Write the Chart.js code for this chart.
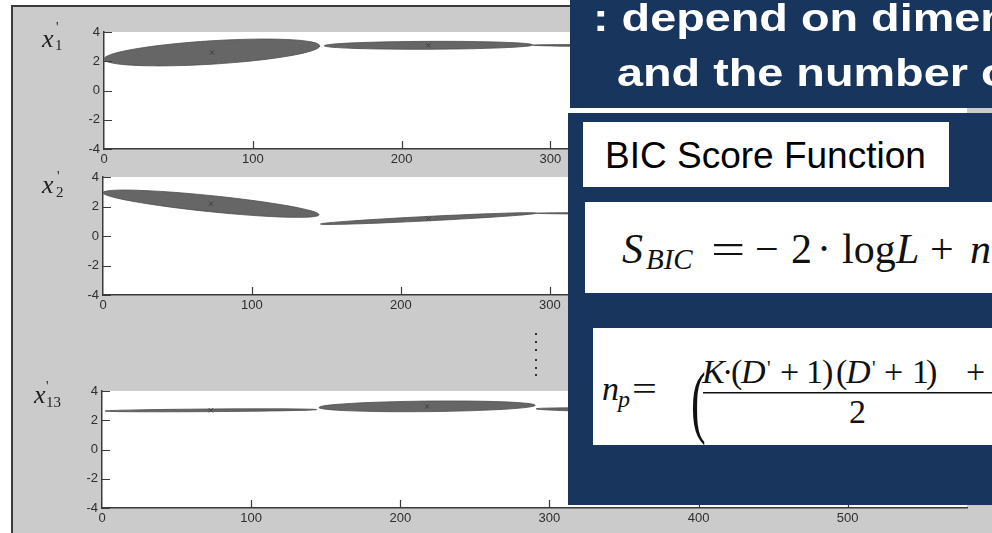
<!DOCTYPE html>
<html>
<head>
<meta charset="utf-8">
<script src="https://cdn.jsdelivr.net/npm/chart.js@4/dist/chart.umd.min.js"></script>
<style>
  html, body { margin: 0; padding: 0; width: 992px; height: 533px; overflow: hidden; background: #ffffff; }
  #figure { position: absolute; left: 11px; top: 5px; width: 1000px; height: 560px;
            background: #cbcbcb; border-left: 2px solid #3a3a3a; border-top: 2px solid #3a3a3a; }
  canvas { position: absolute; }
  #overlay { position: absolute; left: 0; top: 0; }
</style>
</head>
<body>
<div id="figure"></div>
<canvas id="c1"></canvas>
<canvas id="c2"></canvas>
<canvas id="c3"></canvas>

<svg id="overlay" width="992" height="533" xmlns="http://www.w3.org/2000/svg">
  <!-- axis names -->
  <g font-family="Liberation Serif, 'Times New Roman', serif" font-style="italic" fill="#222">
    <text x="42" y="47" font-size="26">x</text>
    <text x="56" y="32" font-size="14" font-style="normal">'</text>
    <text x="55" y="50" font-size="15" font-style="normal">1</text>

    <text x="42" y="193" font-size="26">x</text>
    <text x="57" y="181" font-size="14" font-style="normal">'</text>
    <text x="56" y="197" font-size="15" font-style="normal">2</text>

    <text x="34" y="403" font-size="26">x</text>
    <text x="46" y="391" font-size="14" font-style="normal">'</text>
    <text x="46" y="407" font-size="15" font-style="normal">13</text>
  </g>
  <!-- vertical ellipsis between the panels -->
  <g fill="#333">
    <rect x="535" y="333" width="2" height="2"/>
    <rect x="535" y="341" width="2" height="2"/>
    <rect x="535" y="349" width="2" height="2"/>
    <rect x="535" y="359" width="2" height="2"/>
    <rect x="535" y="367" width="2" height="2"/>
    <rect x="535" y="374" width="2" height="2"/>
  </g>

  <!-- heading box -->
  <rect x="570" y="0" width="430" height="108" fill="#18365d"/>
  <g font-family="Liberation Sans, Arial, sans-serif" font-weight="bold" font-size="39" fill="#ffffff">
    <text transform="translate(593,31) scale(1.2,1)">: depend on dimension</text>
    <text transform="translate(617,86) scale(1.2,1)">and the number of</text>
  </g>

  <!-- score function box -->
  <rect x="568" y="113" width="430" height="392" fill="#18365d"/>
  <rect x="583" y="122" width="366" height="65" fill="#ffffff"/>
  <text x="605" y="168" font-family="Liberation Sans, Arial, sans-serif" font-size="37" fill="#000">BIC Score Function</text>

  <rect x="585" y="202" width="420" height="91" fill="#ffffff"/>
  <g font-family="Liberation Serif, 'Times New Roman', serif" font-size="42" fill="#111">
    <text x="622" y="263" font-style="italic">S</text>
    <text x="646" y="269" font-size="29" font-style="italic">BIC</text>
    <text transform="translate(711,263) scale(1.45,1)">=</text>
    <text x="755" y="263">−</text>
    <text x="791" y="263">2</text>
    <text x="817" y="263">·</text>
    <text x="842" y="263">log</text>
    <text x="896" y="263" font-style="italic">L</text>
    <text x="930" y="263">+</text>
    <text x="970" y="263" font-style="italic">n</text>
  </g>

  <rect x="593" y="328" width="410" height="117" fill="#ffffff"/>
  <g font-family="Liberation Serif, 'Times New Roman', serif" font-size="34" fill="#111">
    <text x="602" y="400" font-style="italic">n</text>
    <text x="618" y="407" font-size="24" font-style="italic">p</text>
    <text transform="translate(632,400) scale(1.3,1)">=</text>
    <text transform="translate(691,428) scale(0.55,1)" font-size="80">(</text>
    <text x="702" y="383" font-style="italic">K</text>
    <text x="722" y="383">·</text>
    <text x="731" y="383">(</text>
    <text x="741" y="383" font-style="italic">D</text>
    <text x="767" y="375" font-size="20">'</text>
    <text x="780" y="383">+</text>
    <text x="806" y="383">1</text>
    <text x="822" y="383">)</text>
    <text x="836" y="383">(</text>
    <text x="846" y="383" font-style="italic">D</text>
    <text x="872" y="375" font-size="20">'</text>
    <text x="884" y="383">+</text>
    <text x="912" y="383">1</text>
    <text x="926" y="383">)</text>
    <text x="966" y="383">+</text>
    <rect x="703" y="392" width="300" height="1.5"/>
    <text x="849" y="423">2</text>
  </g>
</svg>

<script>
// shared axis ticks
const xTicks = [0, 100, 200, 300, 400, 500];
const yTicks = [-4, -2, 0, 2, 4];
const xMax = 580;

// x'_1 : Gaussian components (centre, half length along x, rise tip-to-tip, half thickness)
const centerX1 = [72.5, 218, 362];
const centerY1 = [2.6, 3.09, 3.05];
const halfSpan1 = [72.5, 70, 74];
const rise1 = [0.91, 0.06, -0.1];
const halfThick1 = [0.8, 0.27, 0.08];

// x'_2
const centerX2 = [72.5, 218.5, 362];
const centerY2 = [2.19, 1.18, 1.52];
const halfSpan2 = [72.5, 72.5, 71];
const rise2 = [-1.5, 0.74, -0.05];
const halfThick2 = [0.55, 0.15, 0.06];

// x'_13
const centerX3 = [73, 218, 362];
const centerY3 = [2.68, 2.95, 2.68];
const halfSpan3 = [71, 72.5, 71];
const rise3 = [0.1, 0.15, -0.2];
const halfThick3 = [0.09, 0.36, 0.14];

const axisColor = '#3a3a3a';
const labelFont = { family: 'Liberation Sans, Arial, sans-serif', size: 13 };

const plotBackground = {
  id: 'plotBackground',
  beforeDraw(chart) {
    const { ctx, chartArea: a } = chart;
    ctx.save();
    ctx.fillStyle = '#ffffff';
    ctx.fillRect(a.left, a.top, a.right - a.left, a.bottom - a.top);
    ctx.restore();
  }
};

const inwardTicks = {
  id: 'inwardTicks',
  afterDatasetsDraw(chart) {
    const { ctx, chartArea: a, scales: { x, y } } = chart;
    ctx.save();
    ctx.strokeStyle = axisColor;
    ctx.lineWidth = 1.2;
    ctx.beginPath();
    xTicks.forEach(v => {
      if (v === 0) return;
      const px = Math.round(x.getPixelForValue(v)) + 0.5;
      ctx.moveTo(px, a.bottom);
      ctx.lineTo(px, a.bottom - 8);
    });
    yTicks.forEach(v => {
      const py = Math.round(y.getPixelForValue(v)) + 0.5;
      ctx.moveTo(a.left, py);
      ctx.lineTo(a.left + 8, py);
    });
    ctx.stroke();
    ctx.restore();
  }
};

function ellipsePlugin(cx, cy, span, rise, thick) {
  return {
    id: 'components',
    beforeDatasetsDraw(chart) {
      const { ctx, chartArea: a, scales: { x, y } } = chart;
      ctx.save();
      ctx.beginPath();
      ctx.rect(a.left, a.top, a.right - a.left, a.bottom - a.top);
      ctx.clip();
      cx.forEach((c, i) => {
        const x0 = x.getPixelForValue(c - span[i]);
        const x1 = x.getPixelForValue(c + span[i]);
        const y0 = y.getPixelForValue(cy[i] - rise[i] / 2);
        const y1 = y.getPixelForValue(cy[i] + rise[i] / 2);
        const ang = Math.atan2(y1 - y0, x1 - x0);
        const semiMajor = Math.hypot(x1 - x0, y1 - y0) / 2;
        const semiMinor = Math.max(0.7,
          Math.abs(y.getPixelForValue(0) - y.getPixelForValue(thick[i])) * Math.cos(ang));
        ctx.beginPath();
        ctx.ellipse((x0 + x1) / 2, (y0 + y1) / 2, semiMajor, semiMinor, ang, 0, Math.PI * 2);
        ctx.fillStyle = '#666666';
        ctx.fill();
        ctx.lineWidth = 0.8;
        ctx.strokeStyle = '#4e4e4e';
        ctx.stroke();
      });
      ctx.restore();
    }
  };
}

function makePanel(id, area, cx, cy, span, rise, thick) {
  const canvas = document.getElementById(id);
  const yAxisWidth = 84;
  const left = area.left - yAxisWidth;
  const top = area.top - 20;
  canvas.width = 992 - left;
  canvas.height = (area.bottom - area.top) + 20 + 24;
  canvas.style.left = left + 'px';
  canvas.style.top = top + 'px';

  new Chart(canvas, {
    type: 'scatter',
    data: {
      datasets: [{
        data: cx.map((v, i) => ({ x: v, y: cy[i] })),
        pointStyle: 'crossRot',
        pointRadius: 3,
        borderWidth: 1,
        borderColor: '#3f3f3f',
        backgroundColor: 'transparent'
      }]
    },
    options: {
      responsive: false,
      animation: false,
      devicePixelRatio: 1,
      events: [],
      layout: { padding: { top: 20, right: 992 - area.right, left: 0, bottom: 0 } },
      plugins: { legend: { display: false }, tooltip: { enabled: false } },
      scales: {
        x: {
          type: 'linear', min: 0, max: xMax,
          afterBuildTicks: s => { s.ticks = xTicks.map(v => ({ value: v })); },
          afterFit: s => { s.height = 24; },
          grid: { display: false, drawTicks: false },
          border: { display: true, color: axisColor, width: 1.5 },
          ticks: { padding: 3, color: '#2e2e2e', font: labelFont, maxRotation: 0, autoSkip: false }
        },
        y: {
          type: 'linear', min: -4, max: 4,
          afterBuildTicks: s => { s.ticks = yTicks.map(v => ({ value: v })); },
          afterFit: s => { s.width = yAxisWidth; },
          grid: { display: false, drawTicks: false },
          border: { display: true, color: axisColor, width: 1.5 },
          ticks: { padding: 4, color: '#2e2e2e', font: labelFont, autoSkip: false }
        }
      }
    },
    plugins: [plotBackground, ellipsePlugin(cx, cy, span, rise, thick), inwardTicks]
  });
}

makePanel('c1', { left: 104, right: 967, top: 32, bottom: 149 },
  centerX1, centerY1, halfSpan1, rise1, halfThick1);
makePanel('c2', { left: 103, right: 967, top: 177, bottom: 295 },
  centerX2, centerY2, halfSpan2, rise2, halfThick2);
makePanel('c3', { left: 102, right: 967, top: 391, bottom: 508 },
  centerX3, centerY3, halfSpan3, rise3, halfThick3);
</script>
</body>
</html>
